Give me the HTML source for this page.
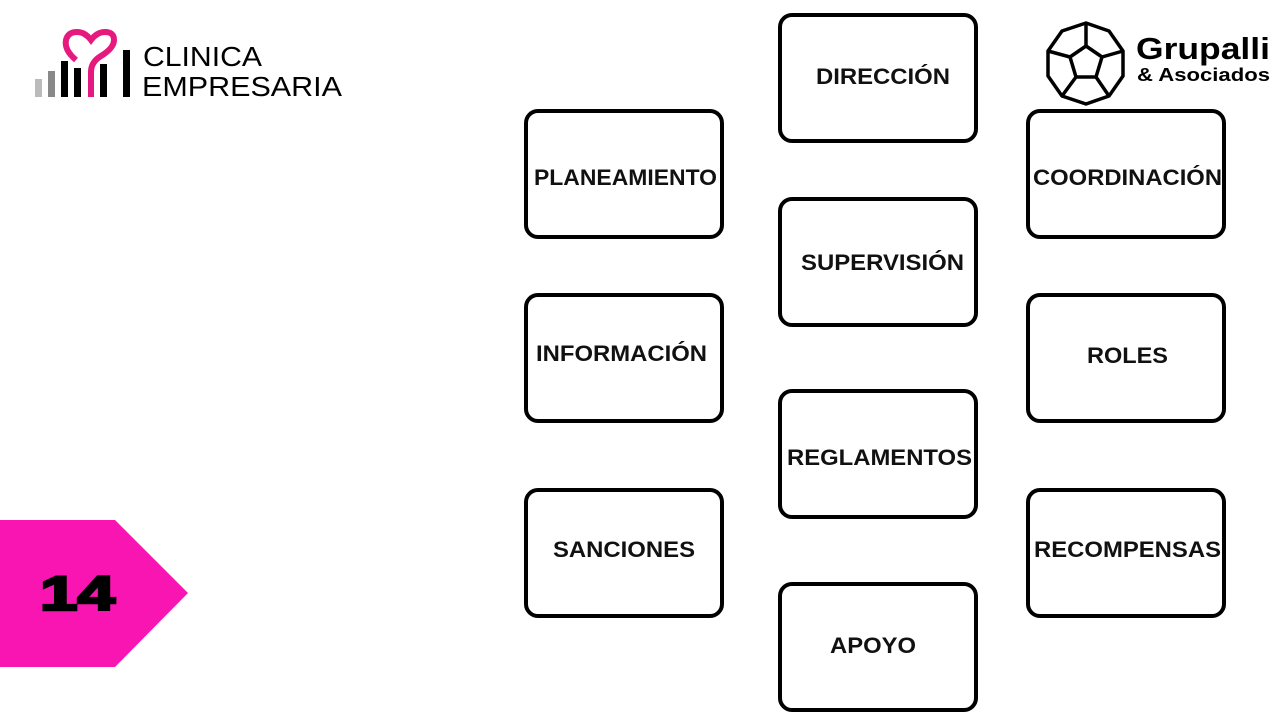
<!DOCTYPE html>
<html><head><meta charset="utf-8"><style>
body{margin:0;width:1280px;height:720px;background:#fff;position:relative;overflow:hidden;font-family:"Liberation Sans",sans-serif}
.b{position:absolute;width:192px;height:122px;border:4.5px solid #000;border-radius:14px;box-sizing:content-box}
</style></head><body>
<div class="b" style="left:524px;top:109px"></div>
<div class="b" style="left:524px;top:293px"></div>
<div class="b" style="left:524px;top:488px"></div>
<div class="b" style="left:778px;top:13px"></div>
<div class="b" style="left:778px;top:197px"></div>
<div class="b" style="left:778px;top:389px"></div>
<div class="b" style="left:778px;top:582px"></div>
<div class="b" style="left:1026px;top:109px"></div>
<div class="b" style="left:1026px;top:293px"></div>
<div class="b" style="left:1026px;top:488px"></div>
<svg style="position:absolute;left:0;top:0" width="1280" height="720">
<g font-family="Liberation Sans" font-weight="bold" font-size="22" fill="#111" lengthAdjust="spacingAndGlyphs">
<text x="534" y="185" textLength="183" lengthAdjust="spacingAndGlyphs">PLANEAMIENTO</text>
<text x="536" y="361" textLength="171" lengthAdjust="spacingAndGlyphs">INFORMACIÓN</text>
<text x="553" y="557" textLength="142" lengthAdjust="spacingAndGlyphs">SANCIONES</text>
<text x="816" y="84" textLength="134" lengthAdjust="spacingAndGlyphs">DIRECCIÓN</text>
<text x="801" y="270" textLength="163" lengthAdjust="spacingAndGlyphs">SUPERVISIÓN</text>
<text x="787" y="465" textLength="185" lengthAdjust="spacingAndGlyphs">REGLAMENTOS</text>
<text x="830" y="653" textLength="86" lengthAdjust="spacingAndGlyphs">APOYO</text>
<text x="1033" y="185" textLength="189" lengthAdjust="spacingAndGlyphs">COORDINACIÓN</text>
<text x="1087" y="363" textLength="81" lengthAdjust="spacingAndGlyphs">ROLES</text>
<text x="1034" y="557" textLength="187" lengthAdjust="spacingAndGlyphs">RECOMPENSAS</text>
</g>
<polygon points="0,520 115,520 188,593 115,667 0,667" fill="#f915b2"/>
<text x="40" y="610" textLength="75" lengthAdjust="spacingAndGlyphs" font-family="Liberation Sans" font-weight="bold" font-size="48" fill="#000" stroke="#000" stroke-width="2.5">14</text>
<rect x="35" y="79" width="7" height="18" fill="#bbb"/>
<rect x="48" y="71" width="7" height="26" fill="#888"/>
<rect x="61" y="61" width="7" height="36" fill="#000"/>
<rect x="74" y="68" width="7" height="29" fill="#000"/>
<rect x="100" y="64" width="7" height="33" fill="#000"/>
<rect x="123" y="50" width="7" height="47" fill="#000"/>
<path d="M91,97 V72 Q91,62 101,56 Q114,48 114,40 Q114,32 105,32 Q97,32 91,40 Q85,32 77,32 Q68,32 66,40 Q64,50 76,60" fill="none" stroke="#e6197f" stroke-width="6"/>
<text x="143" y="66" textLength="119" lengthAdjust="spacingAndGlyphs" font-family="Liberation Sans" font-size="28" fill="#000">CLINICA</text>
<text x="142" y="96" textLength="200" lengthAdjust="spacingAndGlyphs" font-family="Liberation Sans" font-size="28" fill="#000">EMPRESARIA</text>
<g fill="none" stroke="#000" stroke-width="3.5" stroke-linejoin="round">
<polygon points="1086,23 1109,31 1123,51 1123,76 1109,96 1086,104 1062,96 1048,76 1048,51 1062,31"/>
<polygon points="1086,46 1102,57 1096,77 1076,77 1070,57"/>
<path d="M1086,23 V46 M1102,57 L1123,51 M1096,77 L1109,96 M1076,77 L1062,96 M1070,57 L1048,51"/>
</g>
<text x="1136" y="59" textLength="134" lengthAdjust="spacingAndGlyphs" font-family="Liberation Sans" font-weight="bold" font-size="31" fill="#000">Grupalli</text>
<text x="1137" y="81" textLength="133" lengthAdjust="spacingAndGlyphs" font-family="Liberation Sans" font-weight="bold" font-size="18" fill="#000">&amp; Asociados</text>
</svg>
</body></html>
